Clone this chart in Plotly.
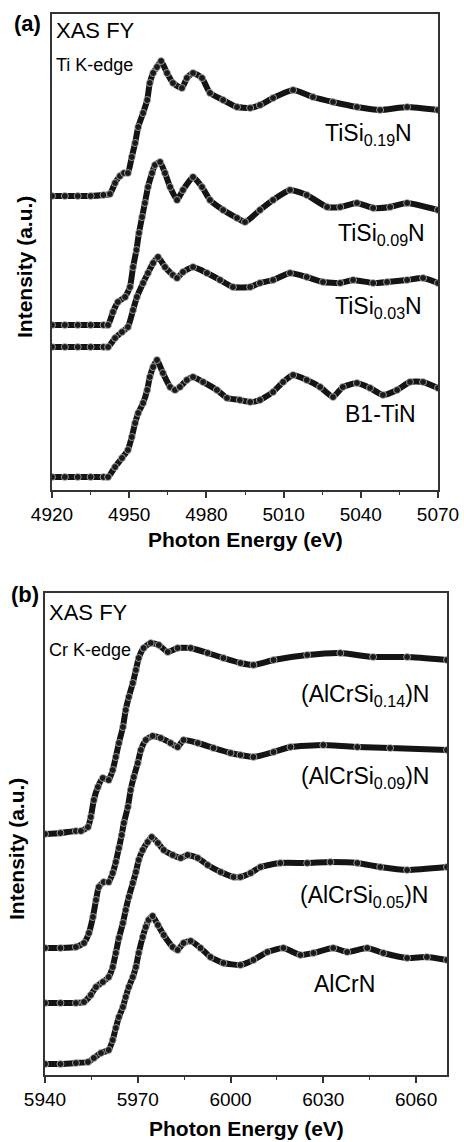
import plotly.graph_objects as go

# ---------------- Panel (a): Ti K-edge ----------------
e_tisi019 = [4920, 4925, 4930, 4935, 4940, 4942.5, 4944.5, 4946.4, 4948, 4949.5, 4951, 4952.3, 4953.5,
             4955.4, 4957, 4958, 4959.3, 4960.8, 4962.4, 4964.7, 4967, 4970.5, 4972.4, 4974.8, 4978.3,
             4981.4, 4986.5, 4991.9, 4997, 5000.8, 5005.9, 5013.7, 5021.4, 5029.2, 5038.5, 5047.5, 5058, 5070]
i_tisi019 = [294, 294, 294, 294, 295, 296, 307, 314, 317, 317, 333, 347, 363,
             377, 390, 407, 417, 423, 429, 417, 407, 402, 412, 417, 412,
             397, 390, 383, 382, 385, 392, 400, 393, 388, 383, 380, 383, 380]

e_tisi009 = [4920, 4925, 4930, 4935, 4940, 4941.8, 4943.7, 4945.6, 4948.4, 4950.3, 4951.5, 4952.8, 4953.8,
             4955, 4956.1, 4957.3, 4958.9, 4960, 4962, 4963.9, 4965.9, 4968.6, 4970.9, 4974.8, 4978.3,
             4981.4, 4986.5, 4991.9, 4995, 5000.8, 5005.9, 5012.5, 5019, 5026.9, 5032, 5038.5, 5044.8,
             5051.4, 5058, 5070]
i_tisi009 = [165, 165, 165, 165, 165, 165, 178, 188, 193, 203, 223, 240, 257,
             273, 287, 303, 317, 325, 328, 317, 303, 290, 300, 313, 303,
             290, 280, 272, 268, 280, 290, 300, 295, 283, 283, 287, 282,
             283, 287, 280]

e_tisi003 = [4920, 4925, 4930, 4935, 4940, 4941.8, 4944.5, 4947.2, 4949.5, 4951.5, 4953, 4955.4, 4957.3,
             4959.3, 4961.2, 4963.9, 4967, 4968.6, 4970.9, 4974.8, 4980.2, 4985.3, 4990.3, 4997, 5000.8,
             5005.9, 5012.5, 5019, 5025.3, 5032, 5037, 5044.8, 5050.2, 5058, 5064.2, 5070]
i_tisi003 = [143, 143, 143, 143, 143, 143, 152, 158, 163, 180, 193, 207, 217,
             227, 233, 223, 215, 212, 218, 223, 217, 210, 203, 203, 207,
             210, 217, 213, 208, 207, 210, 207, 208, 210, 212, 207]

e_tin = [4920, 4925, 4930, 4935, 4940, 4941.8, 4944.5, 4947.2, 4949.5, 4951, 4952.3, 4953.5, 4955.4,
         4957, 4958, 4959.3, 4960.8, 4963.1, 4965.9, 4967.8, 4969.7, 4972.4, 4974.8, 4978.7, 4984.1,
         4988, 4993, 4997, 5000.8, 5005.9, 5009.8, 5013.7, 5019, 5024.2, 5029.2, 5033, 5038.5,
         5043.6, 5048.6, 5054.1, 5059.1, 5064.2, 5070]
i_tin = [13, 13, 13, 13, 13, 13, 23, 32, 40, 53, 67, 77, 87,
         100, 113, 123, 130, 117, 103, 100, 103, 110, 113, 108, 100,
         92, 90, 88, 90, 98, 108, 115, 110, 103, 93, 103, 107,
         102, 95, 100, 108, 108, 102]

# ---------------- Panel (b): Cr K-edge ----------------
e_alcrsi014 = [5940, 5945, 5950, 5951.6, 5953.9, 5954.8, 5955.8, 5957.1, 5958.7, 5960.6, 5961.9, 5962.9,
               5963.9, 5965.2, 5966.1, 5967.1, 5968.4, 5969.4, 5970.3, 5971.9, 5974.2, 5976.8, 5979.7,
               5982.9, 5987.1, 5992.6, 5997.7, 6003.2, 6007.4, 6013.9, 6024.8, 6035.5, 6046.1, 6057.1, 6070]
i_alcrsi014 = [241, 242, 244, 244, 248, 258, 275, 288, 297, 295, 305, 318,
               332, 348, 365, 378, 392, 405, 417, 427, 432, 430, 423,
               427, 427, 422, 417, 412, 410, 415, 420, 422, 418, 418, 415]

e_alcrsi009 = [5940, 5945, 5950, 5952.6, 5954.2, 5955.5, 5956.5, 5957.4, 5959, 5960.6, 5961.9, 5962.9,
               5963.9, 5964.8, 5965.5, 5966.8, 5967.7, 5968.7, 5970, 5971, 5972.6, 5974.8, 5977.4,
               5980.6, 5982.9, 5984.8, 5989.4, 5994.5, 6000, 6003.2, 6007.4, 6013.9, 6019.4, 6030,
               6041, 6051.6, 6070]
i_alcrsi009 = [127, 127, 128, 132, 142, 158, 175, 188, 193, 193, 202, 213,
               227, 240, 252, 268, 285, 298, 312, 325, 335, 339, 337,
               332, 328, 335, 332, 327, 322, 320, 318, 323, 328, 330,
               328, 327, 325]

e_alcrsi005 = [5940, 5945, 5950, 5952.6, 5954.8, 5956.5, 5958.7, 5960.6, 5961.9, 5962.9, 5963.9, 5965.2,
               5966.1, 5967.1, 5968.4, 5969.4, 5970.3, 5971.6, 5973.2, 5974.5, 5976.5, 5978.4, 5981.3,
               5983.9, 5986.1, 5989.4, 5992.6, 5996.8, 6001, 6003.2, 6006.5, 6009.7, 6016.1, 6024.8,
               6032.3, 6041, 6048.4, 6057.1, 6070]
i_alcrsi005 = [72, 72, 72, 73, 80, 88, 93, 98, 108, 122, 137, 152,
               165, 178, 192, 203, 215, 225, 233, 238, 232, 225, 220,
               217, 220, 217, 210, 203, 198, 198, 202, 208, 212, 212,
               213, 212, 208, 205, 208]

e_alcrn = [5940, 5945, 5950, 5953.9, 5955.8, 5958.1, 5960.6, 5961.9, 5962.9, 5963.9, 5965.2, 5966.1,
           5967.1, 5968.4, 5969.4, 5970.3, 5971.6, 5972.6, 5973.5, 5974.8, 5976.5, 5978.4, 5981.3,
           5982.9, 5984.8, 5987.1, 5990.3, 5993.5, 5997.7, 6003.2, 6007.4, 6011.9, 6017.1, 6022.6,
           6026.8, 6033.2, 6037.7, 6044.2, 6049.4, 6057.1, 6063.5, 6070]
i_alcrn = [11, 11, 12, 13, 17, 22, 25, 35, 47, 58, 68, 78,
           88, 98, 108, 122, 138, 148, 155, 159, 150, 140, 128,
           125, 132, 134, 127, 118, 112, 110, 115, 123, 127, 120,
           122, 127, 123, 127, 122, 117, 118, 115]

ticks_a = [4920, 4950, 4980, 5010, 5040, 5070]
ticks_b = [5940, 5970, 6000, 6030, 6060]

W, H = 464, 1142
FONT = "Liberation Sans, Arial, sans-serif"


def px(x):
    return x / W


def py(y):
    return 1 - y / H


fig = go.Figure()

marker = dict(symbol="circle", size=7, color="#1a1a1a", line=dict(color="#cfcfcf", width=0.7))
line = dict(color="#141414", width=6, shape="spline", smoothing=0.5)

for e, i in [(e_tisi019, i_tisi019), (e_tisi009, i_tisi009), (e_tisi003, i_tisi003), (e_tin, i_tin)]:
    fig.add_trace(go.Scatter(x=e, y=i, mode="lines+markers", marker=marker, line=line,
                             xaxis="x", yaxis="y", showlegend=False, hoverinfo="skip"))
for e, i in [(e_alcrsi014, i_alcrsi014), (e_alcrsi009, i_alcrsi009), (e_alcrsi005, i_alcrsi005), (e_alcrn, i_alcrn)]:
    fig.add_trace(go.Scatter(x=e, y=i, mode="lines+markers", marker=marker, line=line,
                             xaxis="x2", yaxis="y2", showlegend=False, hoverinfo="skip"))

axis_common = dict(showline=True, linecolor="#333333", linewidth=1.5, mirror=True,
                   showgrid=False, zeroline=False)

fig.update_layout(
    width=W, height=H,
    margin=dict(l=0, r=0, t=0, b=0, autoexpand=False),
    paper_bgcolor="white", plot_bgcolor="white",
    font=dict(family=FONT, color="black"),
    xaxis=dict(domain=[px(52), px(438)], range=[4920, 5070], anchor="y",
               tickvals=ticks_a, ticks="outside", ticklen=6, tickwidth=1.5, tickcolor="#333333",
               tickfont=dict(size=19, family=FONT),
               minor=dict(dtick=15, tick0=4920, ticks="outside", ticklen=3, tickwidth=1.2, tickcolor="#333333"),
               **axis_common),
    yaxis=dict(domain=[py(490), py(14)], range=[0, 476], anchor="x",
               showticklabels=False, ticks="", **axis_common),
    xaxis2=dict(domain=[px(45), px(447)], range=[5940, 6070], anchor="y2",
                tickvals=ticks_b, ticks="outside", ticklen=6, tickwidth=1.5, tickcolor="#333333",
                tickfont=dict(size=19, family=FONT),
                minor=dict(dtick=15, tick0=5940, ticks="outside", ticklen=3, tickwidth=1.2, tickcolor="#333333"),
                **axis_common),
    yaxis2=dict(domain=[py(1075), py(593)], range=[0, 482], anchor="x2",
                showticklabels=False, ticks="", **axis_common),
)


def ann(text, x, y, size, xanchor="center", yanchor="middle", angle=0):
    fig.add_annotation(text=text, x=px(x), y=py(y), xref="paper", yref="paper",
                       xanchor=xanchor, yanchor=yanchor, showarrow=False, textangle=angle,
                       font=dict(size=size, family=FONT, color="black"))


# Panel labels and axis titles
ann("<b>(a)</b>", 27, 23, 22)
ann("<b>(b)</b>", 25, 594, 22)
ann("<b>Photon Energy (eV)</b>", 245, 540, 21)
ann("<b>Photon Energy (eV)</b>", 246, 1128, 21)
ann("<b>Intensity (a.u.)</b>", 24, 267, 21, angle=-90)
ann("<b>Intensity (a.u.)</b>", 16, 849, 21, angle=-90)

# Inner texts
ann("XAS FY", 54, 30, 22, xanchor="left")
ann("Ti K-edge", 54, 65, 18, xanchor="left")
ann("XAS FY", 47, 612, 22, xanchor="left")
ann("Cr K-edge", 47, 650, 18, xanchor="left")

ann("TiSi<sub>0.19</sub>N", 368, 135, 23)
ann("TiSi<sub>0.09</sub>N", 381, 234, 23)
ann("TiSi<sub>0.03</sub>N", 378, 307, 23)
ann("B1-TiN", 380, 414, 23)
ann("(AlCrSi<sub>0.14</sub>)N", 365, 695, 23)
ann("(AlCrSi<sub>0.09</sub>)N", 365, 777, 23)
ann("(AlCrSi<sub>0.05</sub>)N", 364, 896, 23)
ann("AlCrN", 344, 984, 23)

fig.write_html("out.html", config={"displayModeBar": False},
               post_script="document.body.style.margin='0';document.body.style.padding='0';")
